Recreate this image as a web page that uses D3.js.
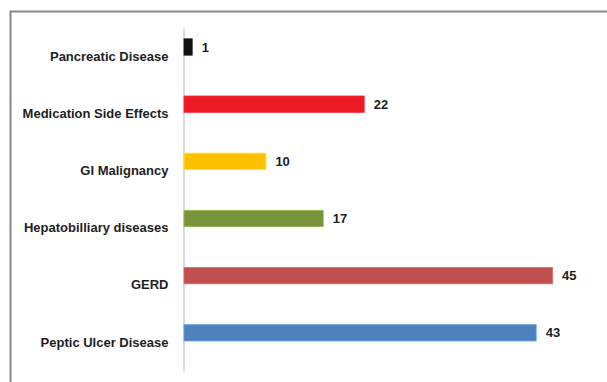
<!DOCTYPE html>
<html>
<head>
<meta charset="utf-8">
<script src="https://cdn.jsdelivr.net/npm/d3@7"></script>
<style>
  html, body { margin: 0; padding: 0; background: #fff; }
  svg { display: block; }
</style>
</head>
<body>
<svg id="chart" width="607" height="382"></svg>
<script>
// Diagnoses, listed top to bottom as they appear on the chart
const categories = [
  "Pancreatic Disease",
  "Medication Side Effects",
  "GI Malignancy",
  "Hepatobilliary diseases",
  "GERD",
  "Peptic Ulcer Disease"
];
const counts = [1, 22, 10, 17, 45, 43];
const barColors = ["#111111", "#ED1C24", "#FFC000", "#77933C", "#C0504D", "#4F81BD"];
const xMax = 50;

const rows = categories.map((c, i) => ({ name: c, value: counts[i], color: barColors[i] }));

const svg = d3.select("#chart");

// Chart area frame
svg.append("rect")
  .attr("x", 10.5).attr("y", 11.5)
  .attr("width", 620).attr("height", 400)
  .attr("fill", "#fff")
  .attr("stroke", "#888")
  .attr("stroke-width", 2);

const plot = { left: 183.5, top: 28, bottom: 371 };

const x = d3.scaleLinear().domain([0, xMax]).range([plot.left, plot.left + 409.5]);
const y = d3.scaleBand().domain(categories).range([plot.top, plot.bottom]).padding(0);

// Each category holds a two-slot cluster; the bar sits in the first slot
const barH = 16;
const slot = d3.scaleBand().domain(["bar", "spare"])
  .range([0, barH * 2.2]).padding(0.05);
const clusterTop = c => y(c) + y.bandwidth() / 2 - barH * 2.2 / 2 - 1;

// Category axis
const yAxis = d3.axisLeft(y).tickSize(0).tickPadding(15);
const gy = svg.append("g")
  .attr("transform", `translate(${plot.left},0)`)
  .call(yAxis);
gy.select(".domain").attr("stroke", "#c8c8c8").attr("stroke-width", 1.3);
gy.selectAll("text")
  .attr("font-family", "Liberation Sans, Arial, sans-serif")
  .attr("font-weight", "bold")
  .attr("font-size", 13)
  .attr("fill", "#1e1e1e");

// Bars
svg.append("g").selectAll("rect")
  .data(rows)
  .join("rect")
  .attr("x", x(0) + 0.5)
  .attr("y", d => clusterTop(d.name) + slot("bar"))
  .attr("width", d => x(d.value) - x(0))
  .attr("height", slot.bandwidth())
  .attr("fill", d => d.color)
  .attr("stroke", d => d3.color(d.color).brighter(0.6))
  .attr("stroke-width", 0.8);

// Value labels
svg.append("g").selectAll("text")
  .data(rows)
  .join("text")
  .attr("x", d => x(d.value) + 10)
  .attr("y", d => clusterTop(d.name) + slot("bar") + slot.bandwidth() / 2)
  .attr("dy", "0.35em")
  .attr("font-family", "Liberation Sans, Arial, sans-serif")
  .attr("font-weight", "bold")
  .attr("font-size", 13)
  .attr("fill", "#1e1e1e")
  .text(d => d.value);
</script>
</body>
</html>
